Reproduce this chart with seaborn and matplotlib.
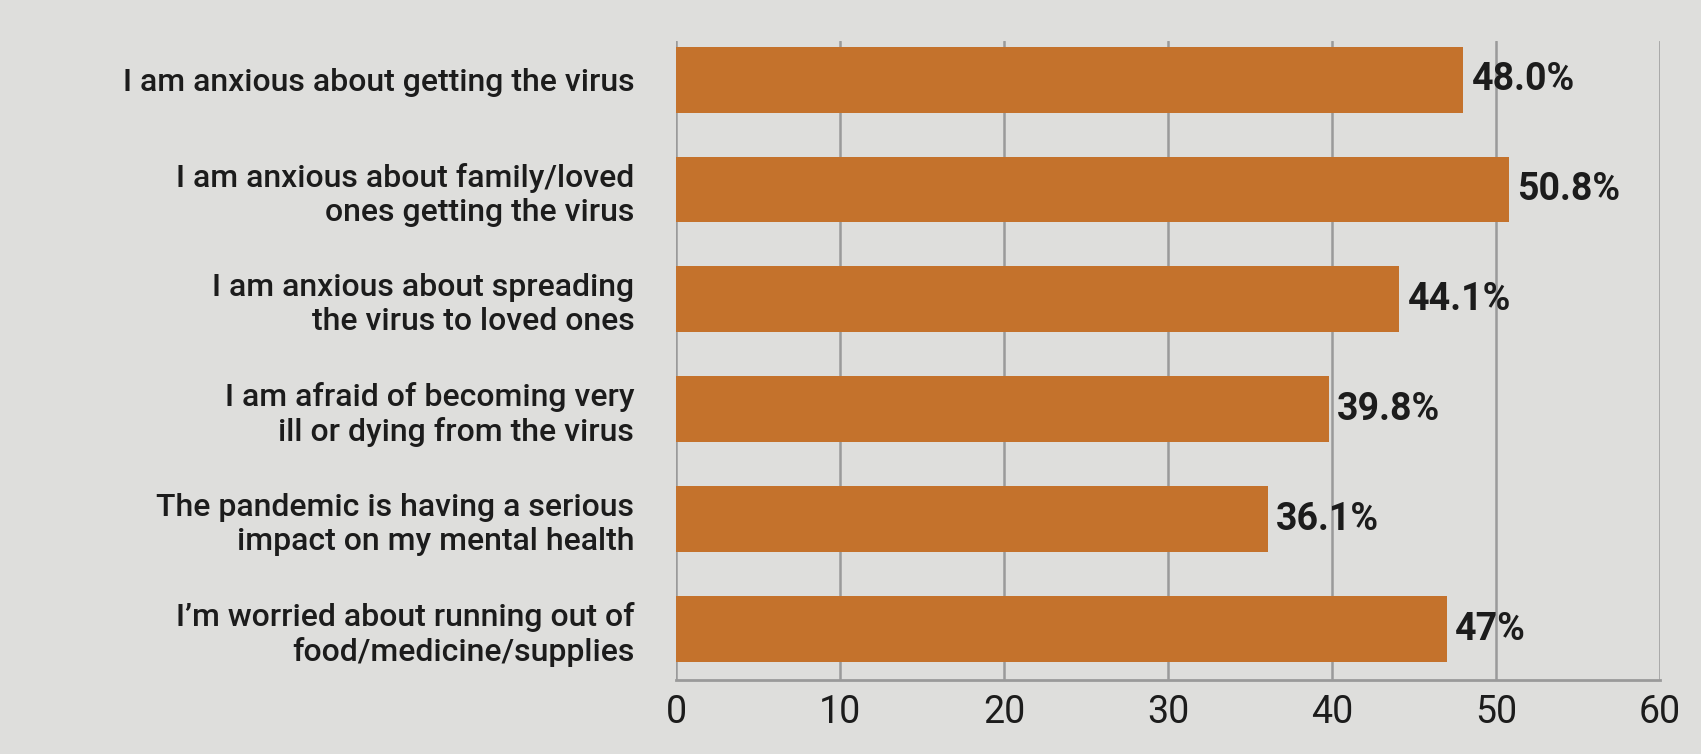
import matplotlib
matplotlib.use("Agg")
import matplotlib.pyplot as plt
import seaborn as sns
import pandas as pd

categories = [
    "I am anxious about getting the virus",
    "I am anxious about family/loved\nones getting the virus",
    "I am anxious about spreading\nthe virus to loved ones",
    "I am afraid of becoming very\nill or dying from the virus",
    "The pandemic is having a serious\nimpact on my mental health",
    "I\u2019m worried about running out of\nfood/medicine/supplies",
]
values = [48.0, 50.8, 44.1, 39.8, 36.1, 47.0]
value_labels = ["48.0%", "50.8%", "44.1%", "39.8%", "36.1%", "47%"]
x_ticks = [0, 10, 20, 30, 40, 50, 60]

sns.set_theme(style="white")
plt.rcParams["font.family"] = ["Roboto", "DejaVu Sans"]

bg = "#dededc"
bar_color = "#c4722c"
grid_color = "#9a9a9a"
text_color = "#1c1c1c"

df = pd.DataFrame({"category": categories, "value": values})

fig = plt.figure(figsize=(17.01, 7.54), dpi=100, facecolor=bg)
ax = fig.add_axes([0.3974, 0.0981, 0.5785, 0.8475])
ax.set_facecolor(bg)

sns.barplot(data=df, x="value", y="category", orient="h", color=bar_color,
            saturation=1, width=0.6, ax=ax, zorder=3, linewidth=0,
            edgecolor=bar_color)

ax.set_xlim(0, 60)
ax.set_ylim(5.46, -0.35)
ax.set_xticks(x_ticks)
ax.set_xticklabels([str(t) for t in x_ticks], fontsize=27, color=text_color)
ax.tick_params(axis="x", length=0, pad=10)
ax.tick_params(axis="y", length=0, pad=30)
for lbl in ax.get_yticklabels():
    lbl.set_fontsize(23)
    lbl.set_fontweight("medium")
    lbl.set_color(text_color)
    lbl.set_linespacing(1.2)
    lbl.set_horizontalalignment("right")

ax.set_xlabel("")
ax.set_ylabel("")
for t in x_ticks:
    ax.axvline(t, color=grid_color, lw=1.8, zorder=1)
for s in ["top", "right", "left"]:
    ax.spines[s].set_visible(False)
ax.spines["bottom"].set_color(grid_color)
ax.spines["bottom"].set_linewidth(2)

for i, (v, lab) in enumerate(zip(values, value_labels)):
    ax.annotate(lab, xy=(v, i), xytext=(6, 0), textcoords="offset points",
                ha="left", va="center", fontsize=27, fontweight="bold",
                color=text_color, zorder=4)

fig.savefig("out.png", dpi=100, facecolor=bg)
